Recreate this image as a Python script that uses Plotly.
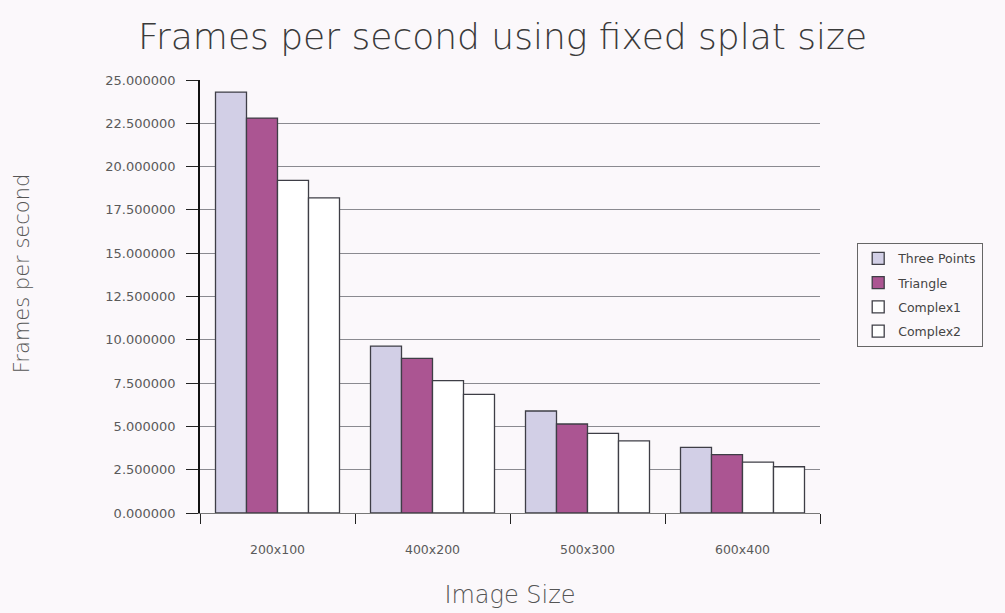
import plotly.graph_objects as go

# Image sizes on the x axis
image_sizes = ["200x100", "400x200", "500x300", "600x400"]

# Frames per second for each splat type
three_points = [24.3, 9.64, 5.89, 3.79]
triangle = [22.8, 8.93, 5.14, 3.37]
complex1 = [19.2, 7.64, 4.60, 2.94]
complex2 = [18.2, 6.85, 4.17, 2.67]

y_ticks = [0, 2.5, 5, 7.5, 10, 12.5, 15, 17.5, 20, 22.5, 25]

series = [
    ("Three Points", three_points, "#d2cfe6"),
    ("Triangle", triangle, "#ab5592"),
    ("Complex1", complex1, "#ffffff"),
    ("Complex2", complex2, "#ffffff"),
]

bg = "#fbf8fb"
fig = go.Figure()
for name, vals, color in series:
    fig.add_trace(go.Bar(
        name=name, x=image_sizes, y=vals, legendgroup=name,
        marker=dict(color=color, line=dict(color="#3e3e46", width=1.3)),
    ))

fig.update_layout(
    width=1005, height=613,
    paper_bgcolor=bg, plot_bgcolor=bg,
    barmode="group", bargap=0.2, bargroupgap=0,
    margin=dict(l=200, r=185, t=80, b=100),
    font=dict(family="DejaVu Sans", color="#555555"),
    title=dict(
        text="Frames per second using fixed splat size",
        x=0.5, xanchor="center", y=0.94, yanchor="middle",
        font=dict(family="DejaVu Sans", size=36, weight=200, color="#3a3a3a"),
    ),
    legend=dict(
        x=1.06, y=0.624, xanchor="left", yanchor="top",
        bgcolor=bg, bordercolor="#666666", borderwidth=1,
        font=dict(family="DejaVu Sans", size=12.5, color="#444444"),
        traceorder="grouped", tracegroupgap=5, itemwidth=30,
    ),
    xaxis=dict(
        type="category", automargin=False,
        tickson="boundaries", ticks="outside", ticklen=10, tickcolor="#222222",
        showline=True, linecolor="#777777", linewidth=1,
        ticklabelstandoff=25,
        tickfont=dict(size=12.5, color="#5a5a5a"),
        title=dict(text="Image Size", font=dict(family="DejaVu Sans", size=24, weight=200, color="#555555"), standoff=30),
    ),
    yaxis=dict(
        range=[0, 25], tickvals=y_ticks, tickformat=".6f", automargin=False,
        ticks="outside", ticklen=12, tickcolor="#222222",
        showline=True, linecolor="#111111", linewidth=1.5,
        showgrid=True, gridcolor="#8a8a90", gridwidth=1.2,
        zeroline=False, ticklabelstandoff=8,
        tickfont=dict(size=13, color="#5a5a5a"),
    ),
    annotations=[dict(
        text="Frames per second", textangle=-90,
        xref="paper", yref="paper", x=-0.287, y=0.554,
        xanchor="center", yanchor="middle", showarrow=False,
        font=dict(family="DejaVu Sans", size=21, weight=200, color="#555555"),
    )],
)

fig.write_html("out.html")
